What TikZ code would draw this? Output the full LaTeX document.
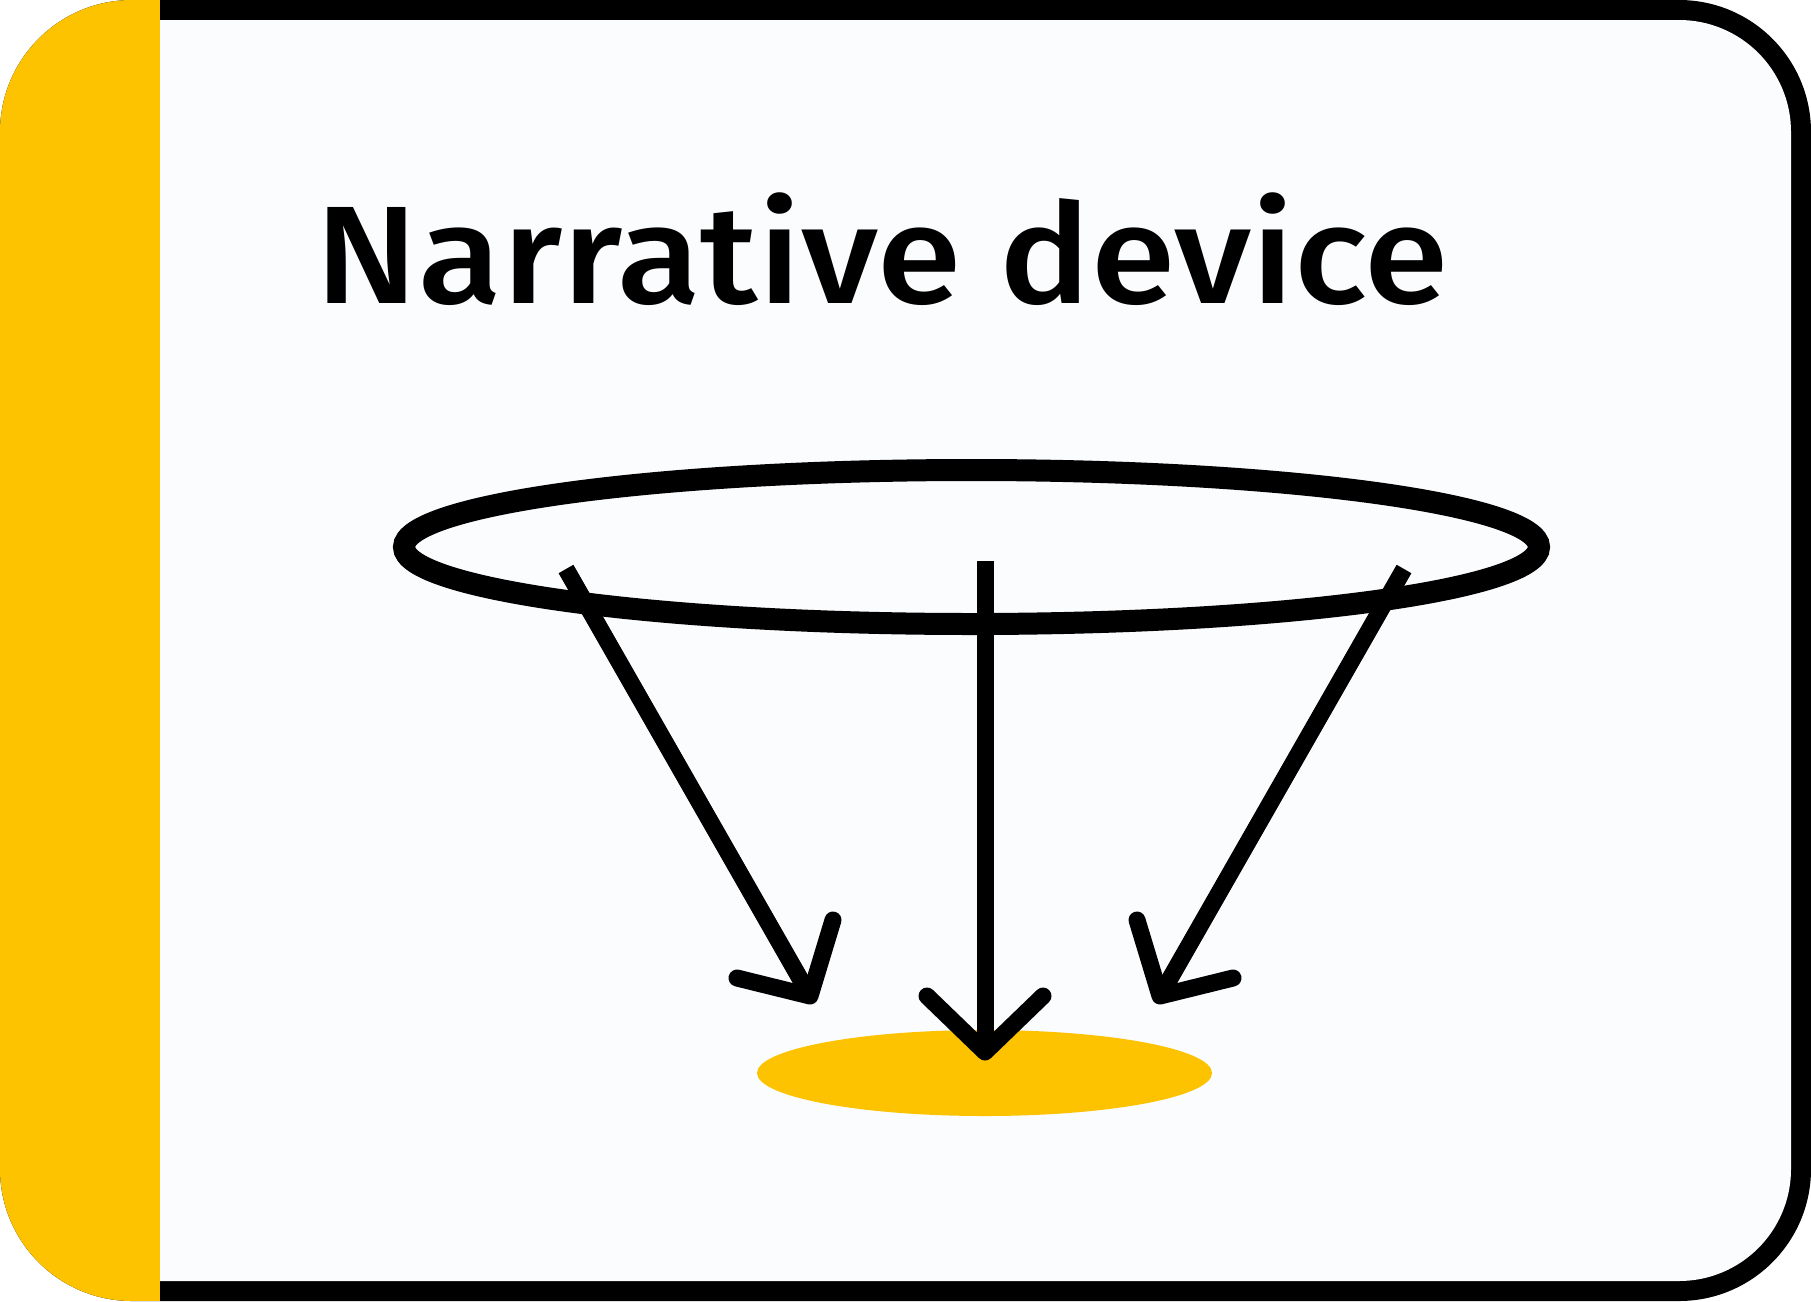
\documentclass[tikz,border=0pt]{standalone}
\usepackage{fontspec}
\IfFontExistsTF{Fira Sans Medium}
  {\newfontfamily\titlefont{Fira Sans Medium}}
  {\newfontfamily\titlefont{Fira Sans}[BoldFont={* Bold}]}
\definecolor{bandyellow}{HTML}{FDC300}
\definecolor{panelbg}{HTML}{FBFCFE}
\begin{document}
\begin{tikzpicture}[x=1pt,y=-1pt,
  shaft/.style={line width=17pt,line cap=butt},
  barb/.style={line width=17pt,line cap=round,line join=round},
  ring/.style={line width=22pt}]
\useasboundingbox (0,0) rectangle (1811,1301);
\fill[white] (0,0) rectangle (1811,1301);
\fill[black, rounded corners=132pt] (0,0) rectangle (1811,1301);
\fill[panelbg, rounded corners=112pt] (20,20) rectangle (1791,1281);
\begin{scope}
  \clip[rounded corners=132pt] (0,0) rectangle (1811,1301);
  \fill[bandyellow] (0,0) rectangle (160,1301);
\end{scope}
\node[anchor=base, inner sep=0pt, xscale=1.1, font=\titlefont\fontsize{139}{160}\selectfont] (title) at (882,303) {Narrative device};
% big ellipse
\draw[ring] (971.5,547) ellipse [x radius=567.5, y radius=77];
% yellow target
\fill[bandyellow] (984.5,1073) ellipse [x radius=227.5, y radius=43];
% coordinates
\coordinate (sL) at (566,569);
\coordinate (tL) at (810,996);
\coordinate (sM) at (985,561);
\coordinate (tM) at (985,1052);
\coordinate (sR) at (1404,569);
\coordinate (tR) at (1160,996);
% shafts
\draw[shaft] (sL) -- (tL);
\draw[shaft] (sM) -- (tM);
\draw[shaft] (sR) -- (tR);
% heads
\draw[barb] ([shift={(-73,-18)}]tL) -- (tL) -- ([shift={(23,-76)}]tL);
\draw[barb] ([shift={(-58,-56)}]tM) -- (tM) -- ([shift={(58,-56)}]tM);
\draw[barb] ([shift={(73,-18)}]tR) -- (tR) -- ([shift={(-23,-76)}]tR);
\end{tikzpicture}
\end{document}
